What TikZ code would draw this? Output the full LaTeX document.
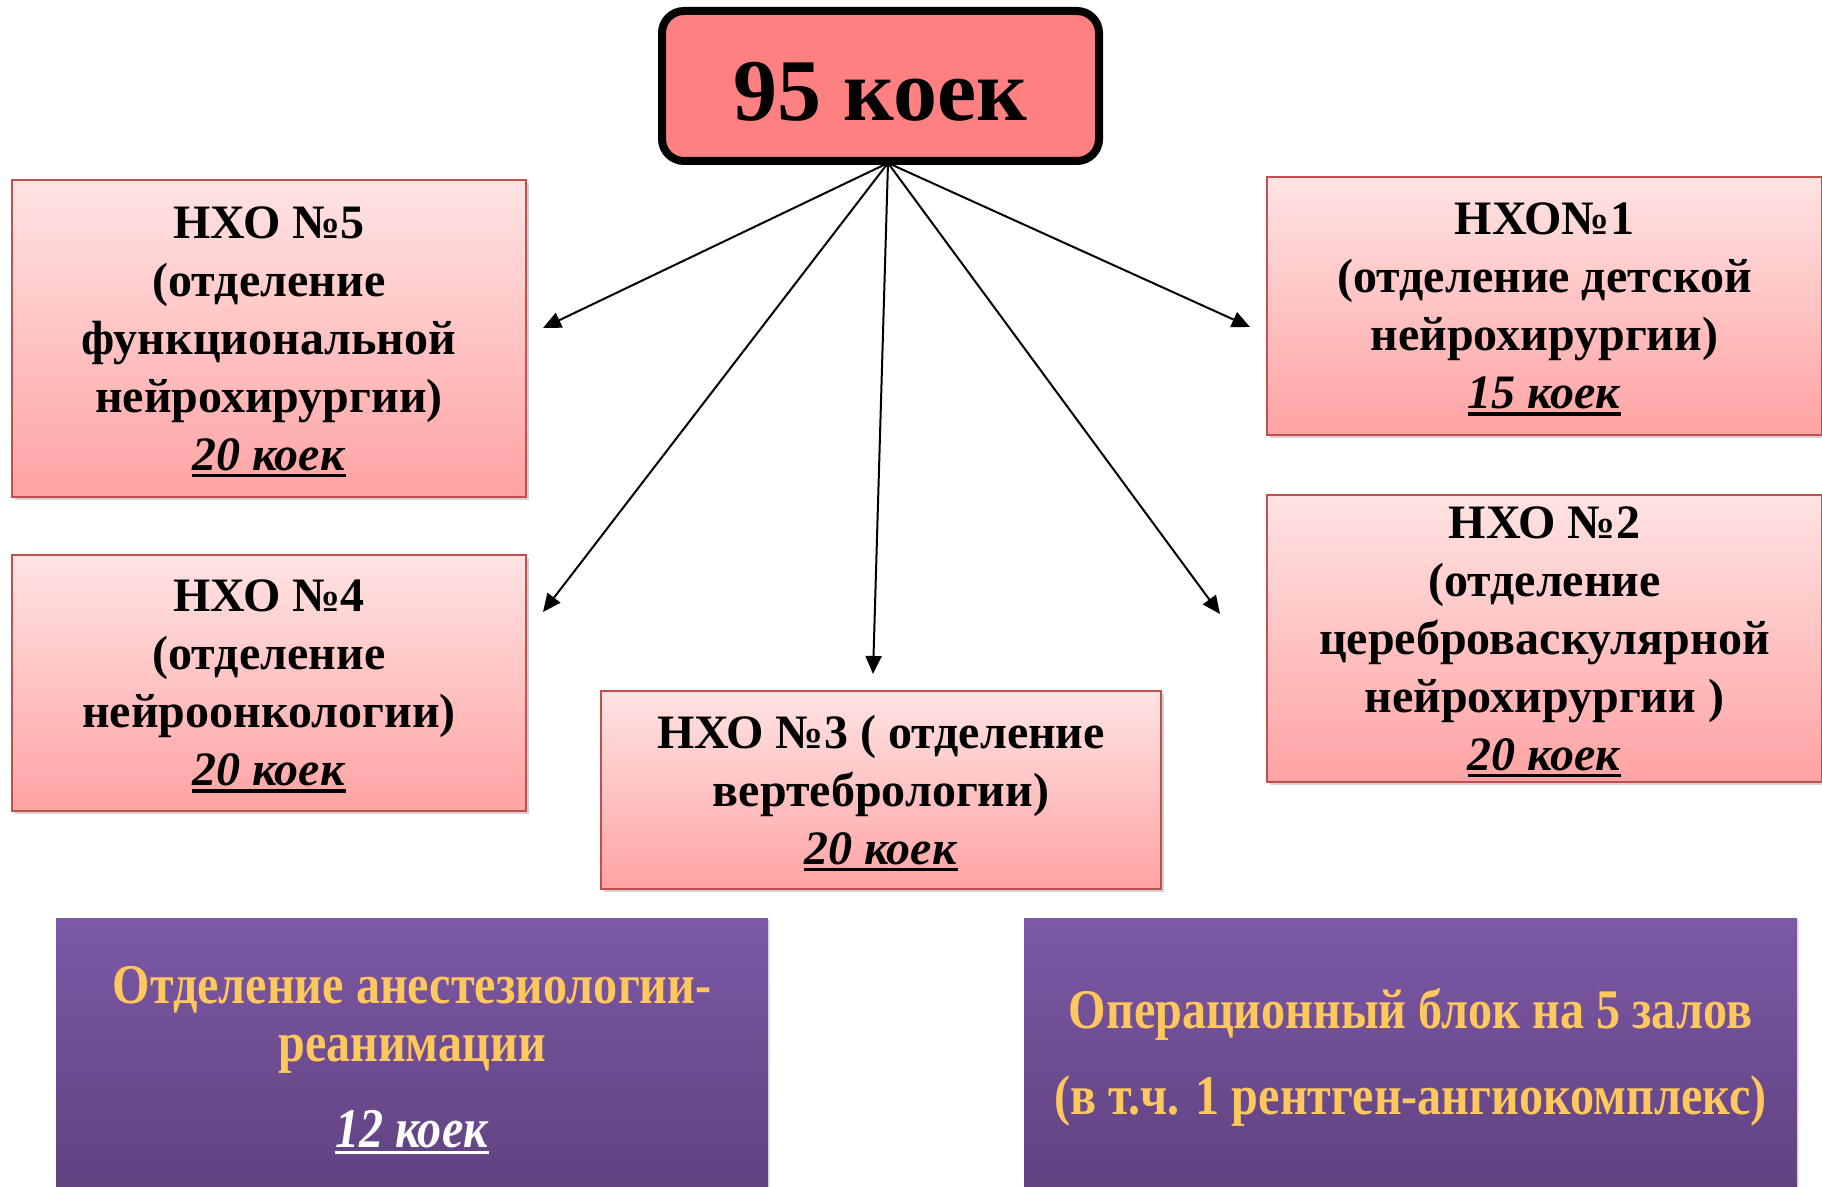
\documentclass[tikz,border=0pt]{standalone}
\usepackage{fontspec}
\setmainfont{Liberation Serif}
\usetikzlibrary{arrows.meta,shadows}
\definecolor{topfill}{HTML}{FF8080}
\definecolor{pinktop}{HTML}{FFE3E3}
\definecolor{pinkbot}{HTML}{FFA3A3}
\definecolor{pinkline}{HTML}{C0504D}
\definecolor{violettop}{HTML}{7D59A6}
\definecolor{violetbot}{HTML}{5F417F}
\definecolor{goldtext}{HTML}{FFC85C}
\newcommand{\koek}[1]{\setbox0\hbox{\textit{#1}}\copy0\llap{\smash{\rule[-3.5pt]{\wd0}{1.6pt}}}}
\begin{document}
\begin{tikzpicture}[x=0.5pt,y=-0.5pt,
    otdel/.style={draw=pinkline, line width=0.8pt, top color=pinktop, bottom color=pinkbot,
      align=center, inner sep=0pt, font=\fontsize{24}{29}\selectfont\bfseries,
      drop shadow={opacity=0.35, shadow xshift=1.5pt, shadow yshift=-1.5pt}},
    blok/.style={top color=violettop, bottom color=violetbot, text=goldtext, align=center,
      inner sep=0pt, font=\fontsize{28}{29}\selectfont\bfseries\addfontfeature{FakeStretch=0.86},
      drop shadow={opacity=0.2, shadow xshift=1pt, shadow yshift=-1pt}},
    strelka/.style={line width=1pt, -{Triangle[length=9pt,width=8pt]}}]
    \useasboundingbox[fill=white] (0,0) rectangle (1822,1187);
    % vsego koek
    \node[draw=black, line width=4pt, rounded corners=11pt, fill=topfill,
      minimum width=218.5pt, minimum height=75pt, text height=35pt, text depth=0pt,
      font=\fontsize{44}{50}\selectfont\bfseries] (koiki) at (880.5,86) {95 коек};
    % otdeleniya
    \node[otdel, minimum width=257pt, minimum height=158.5pt] (nho5) at (269,338.5)
      {НХО №5\\(отделение\\функциональной\\нейрохирургии)\\\koek{20 коек}};
    \node[otdel, minimum width=257pt, minimum height=128pt] (nho4) at (269,683)
      {НХО №4\\(отделение\\нейроонкологии)\\\koek{20 коек}};
    \node[otdel, minimum width=280pt, minimum height=99pt] (nho3) at (881,790)
      {НХО №3 ( отделение\\вертебрологии)\\\koek{20 коек}};
    \node[otdel, minimum width=277.5pt, minimum height=129pt] (nho1) at (1544.5,306)
      {НХО№1\\(отделение детской\\нейрохирургии)\\\koek{15 коек}};
    \node[otdel, minimum width=277.5pt, minimum height=143.5pt] (nho2) at (1544.5,638.5)
      {НХО №2\\(отделение\\цереброваскулярной\\нейрохирургии )\\\koek{20 коек}};
    % nizhnie bloki
    \node[blok, minimum width=356pt, minimum height=139pt] (reanim) at (412,1057)
      {Отделение анестезиологии-\\реанимации\\[14pt]{\color{white}\koek{12 коек}}};
    \node[blok, minimum width=386.5pt, minimum height=139pt] (operblok) at (1410.5,1057)
      {Операционный блок на 5 залов\\[14pt](в т.ч. 1 рентген-ангиокомплекс)};
    % strelki
    \coordinate (hub) at (888,163);
    \coordinate (k5) at (543,328);
    \coordinate (k4) at (543,612);
    \coordinate (k3) at (873,674);
    \coordinate (k2) at (1220,614);
    \coordinate (k1) at (1250,327);
    \draw[strelka] (hub) -- (k5);
    \draw[strelka] (hub) -- (k4);
    \draw[strelka] (hub) -- (k3);
    \draw[strelka] (hub) -- (k2);
    \draw[strelka] (hub) -- (k1);
\end{tikzpicture}
\end{document}
